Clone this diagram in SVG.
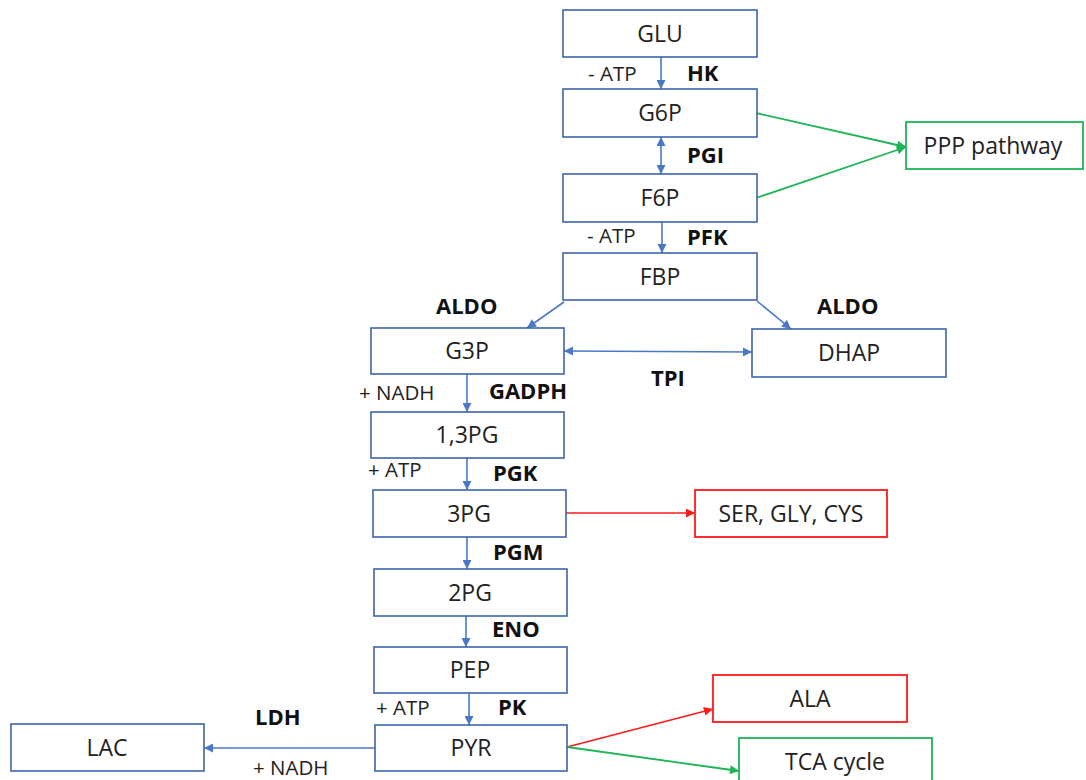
<svg xmlns="http://www.w3.org/2000/svg" width="1086" height="780" viewBox="0 0 1086 780">
<defs>
<style>
.box{fill:#fff;stroke:#3d64a8;stroke-width:1.6}
.rbox{fill:#fff;stroke:#ff1a1a;stroke-width:1.8}
.gbox{fill:#fff;stroke:#1fb457;stroke-width:1.8}
.t{font-family:"Open Sans","Liberation Sans",sans-serif;font-size:23px;fill:#222;text-anchor:middle}
.b{font-family:"Open Sans","Liberation Sans",sans-serif;font-size:22px;font-weight:bold;fill:#111}
.s{font-family:"Open Sans","Liberation Sans",sans-serif;font-size:20.5px;fill:#222}
.bl{stroke:#4a78c8;stroke-width:1.6;fill:none}
.rd{stroke:#ff1a1a;stroke-width:1.6;fill:none}
.gr{stroke:#1fb457;stroke-width:1.8;fill:none}
</style>
<marker id="ab" viewBox="0 0 10 10" refX="10" refY="5" markerWidth="10" markerHeight="9" markerUnits="userSpaceOnUse" orient="auto-start-reverse"><path d="M0,0 L10,5 L0,10 z" fill="#4a78c8"/></marker>
<marker id="ar" viewBox="0 0 10 10" refX="10" refY="5" markerWidth="10" markerHeight="9" markerUnits="userSpaceOnUse" orient="auto"><path d="M0,0 L10,5 L0,10 z" fill="#ff1a1a"/></marker>
<marker id="ag" viewBox="0 0 10 10" refX="10" refY="5" markerWidth="10" markerHeight="9" markerUnits="userSpaceOnUse" orient="auto"><path d="M0,0 L10,5 L0,10 z" fill="#1fb457"/></marker>
</defs>
<rect width="1086" height="780" fill="#fff"/>
<g id="connectors">
<line class="bl" x1="661" y1="57" x2="661" y2="89" marker-end="url(#ab)"/>
<line class="bl" x1="661" y1="137" x2="661" y2="174" marker-start="url(#ab)" marker-end="url(#ab)"/>
<line class="bl" x1="662" y1="222" x2="662" y2="253" marker-end="url(#ab)"/>
<line class="bl" x1="564" y1="302" x2="527" y2="328" marker-end="url(#ab)"/>
<line class="bl" x1="757" y1="301" x2="791" y2="329" marker-end="url(#ab)"/>
<line class="bl" x1="564" y1="351" x2="752" y2="352" marker-start="url(#ab)" marker-end="url(#ab)"/>
<line class="bl" x1="467" y1="374" x2="467" y2="412" marker-end="url(#ab)"/>
<line class="bl" x1="467" y1="458" x2="467" y2="490" marker-end="url(#ab)"/>
<line class="rd" x1="566" y1="513" x2="695" y2="513" marker-end="url(#ar)"/>
<line class="bl" x1="467" y1="537" x2="467" y2="569" marker-end="url(#ab)"/>
<line class="bl" x1="466" y1="616" x2="466" y2="647" marker-end="url(#ab)"/>
<line class="bl" x1="469" y1="693" x2="469" y2="725" marker-end="url(#ab)"/>
<line class="bl" x1="375" y1="748" x2="204" y2="748" marker-end="url(#ab)"/>
<line class="rd" x1="567" y1="747" x2="713" y2="709" marker-end="url(#ar)"/>
<line class="gr" x1="567" y1="747" x2="739" y2="771" marker-end="url(#ag)"/>
<line class="gr" x1="756" y1="113" x2="906" y2="147" marker-end="url(#ag)"/>
<line class="gr" x1="756" y1="198" x2="906" y2="147" marker-end="url(#ag)"/>
</g>
<g id="GLU"><rect class="box" x="563" y="10" width="194" height="47"/><text class="t" x="660" y="42">GLU</text></g>
<g id="G6P"><rect class="box" x="563" y="89" width="194" height="48"/><text class="t" x="660" y="121">G6P</text></g>
<g id="F6P"><rect class="box" x="563" y="174" width="194" height="48"/><text class="t" x="660" y="206">F6P</text></g>
<g id="FBP"><rect class="box" x="563" y="253" width="194" height="47"/><text class="t" x="660" y="285">FBP</text></g>
<g id="G3P"><rect class="box" x="371" y="328" width="193" height="46"/><text class="t" x="467" y="359">G3P</text></g>
<g id="DHAP"><rect class="box" x="752" y="329" width="194" height="48"/><text class="t" x="849" y="361">DHAP</text></g>
<g id="PG13"><rect class="box" x="371" y="412" width="193" height="46"/><text class="t" x="467" y="443">1,3PG</text></g>
<g id="PG3"><rect class="box" x="373" y="490" width="193" height="47"/><text class="t" x="469" y="522">3PG</text></g>
<g id="SER"><rect class="rbox" x="695" y="490" width="192" height="47"/><text class="t" x="791" y="522">SER, GLY, CYS</text></g>
<g id="PG2"><rect class="box" x="374" y="569" width="193" height="47"/><text class="t" x="470" y="601">2PG</text></g>
<g id="PEP"><rect class="box" x="374" y="647" width="193" height="46"/><text class="t" x="470" y="678">PEP</text></g>
<g id="ALA"><rect class="rbox" x="713" y="675" width="194" height="47"/><text class="t" x="810" y="707">ALA</text></g>
<g id="PYR"><rect class="box" x="375" y="725" width="192" height="46"/><text class="t" x="471" y="756">PYR</text></g>
<g id="LAC"><rect class="box" x="11" y="724" width="193" height="47"/><text class="t" x="107" y="756">LAC</text></g>
<g id="TCA"><rect class="gbox" x="739" y="738" width="193" height="50"/><text class="t" x="835" y="770">TCA cycle</text></g>
<g id="PPP"><rect class="gbox" x="906" y="122" width="177" height="47"/><text class="t" x="993" y="154">PPP pathway</text></g>
<g id="labels">
<text class="s" x="588" y="81">- ATP</text>
<text class="b" x="687" y="81">HK</text>
<text class="b" x="687" y="163">PGI</text>
<text class="s" x="587" y="243">- ATP</text>
<text class="b" x="687" y="245">PFK</text>
<text class="b" x="436" y="314">ALDO</text>
<text class="b" x="817" y="314">ALDO</text>
<text class="b" x="651" y="386">TPI</text>
<text class="s" x="359" y="400">+ NADH</text>
<text class="b" x="489" y="399">GADPH</text>
<text class="s" x="368" y="477">+ ATP</text>
<text class="b" x="493" y="481">PGK</text>
<text class="b" x="493" y="560">PGM</text>
<text class="b" x="492" y="637">ENO</text>
<text class="s" x="376" y="715">+ ATP</text>
<text class="b" x="498" y="715">PK</text>
<text class="b" x="255" y="725">LDH</text>
<text class="s" x="253" y="775">+ NADH</text>
</g>
</svg>
